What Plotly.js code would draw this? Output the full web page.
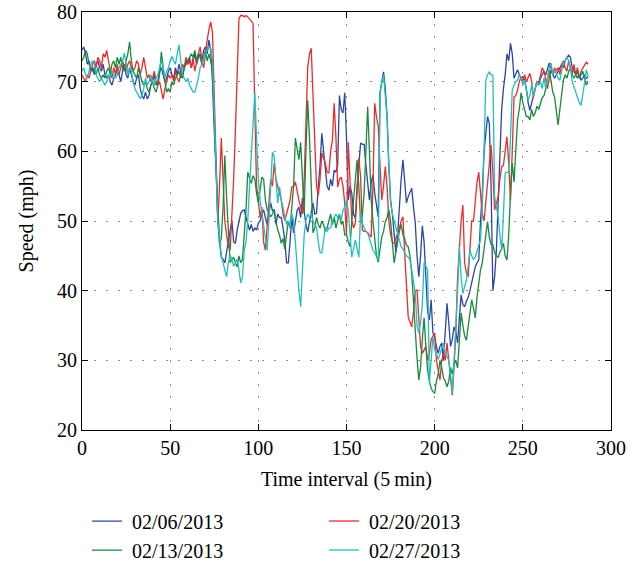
<!DOCTYPE html>
<html>
<head>
<meta charset="utf-8">
<script src="https://cdn.plot.ly/plotly-3.0.1.min.js"></script>
<style>html,body{margin:0;padding:0;background:#fff;}#chart{width:643px;height:561px;}</style>
</head>
<body>
<div id="chart"></div>
<script>
// Series labels
const seriesNames = ["02/06/2013", "02/20/2013", "02/13/2013", "02/27/2013"];

// Speed (mph) per 5-min interval, index 0..287
const speed0206 = [
74.5,75,74,72.5,73,71.5,72,71,72.5,73,
72,71.5,72.5,71,70.5,71,70,69.5,70.5,71,
72,71,70,71.5,72.5,71,70.5,72,71,70,
69.5,70.5,71,69,68,67.5,68.5,67.5,68,69.5,
70,71,69.5,70,71.5,72,71,70,70.5,71.5,
72,71,70.5,72,71,72.5,71.5,70.5,72,73,
72.5,73.5,72,73,74,72.5,73.5,74,73,74.5,
75,74,76,74.5,70,63,57,52,47,44.8,
44.5,44,45.5,46.8,48,50.1,47,46.8,48.7,50,
51.1,51.5,51.6,50.5,49.7,48.7,49.5,48.5,49,48.7,
49.7,50,51,51.6,50.5,49.5,51,52.6,51.5,51.6,
49.5,51,50.5,50.5,49,47.3,44,44,47,50.6,
48.3,50,51.5,52,50.5,53.3,51,49.5,48.4,50,
51.5,52.6,51,51.1,55,58,62.6,60,58,55,
54.4,56,55,57.3,57,58,68,66,65.5,68.4,
62,53,55,54,51,50.4,55,58,61.2,61,
61,58,55,53,55.5,56.6,54,52,50.6,68.4,
70,71.4,69,65,58,53,51,48,45.5,48,
53,56,58.8,55,52.6,53.5,54,54.7,52,49.7,
45,42,45,49.3,47,42,37,35.8,38.7,34,
33.4,32,31,32,32.5,30,34,38.2,35.4,32,
33,34.8,34,32.5,36,39.4,38,37.7,38.5,39,
40,41.1,42,43.4,44,44.4,50,54,60,63,
65,64,55,40,42,45.8,52,60,66,69,
71,74,73,75.5,74,70.5,71,71.7,71,70.5,
70.7,70.2,69,67,65.9,67,68,68.8,70,69.5,
70.5,71,71.5,71,72,72.7,72,71,70.5,71,
71.5,72,72.5,72,73,73.5,73.8,73.5,72,71.5,
71,70.5,71,70.2,70.5,71,70.5,70.7
];

const speed0220 = [
71,70.5,70,71,70.5,71.5,72.5,73,72,73.5,
73,72,74,73.5,74.5,73,71.5,70.5,72,71,
72.5,71,72,73,72,71.5,72.5,73,72,71.5,
72,73,72.5,71,72,73.5,72,70.5,71,70,
70.5,71.5,70,69.5,70,68.5,67.5,69,70,71,
70.5,71,70,71.5,70.5,70,71,72.5,72,73.5,
72.5,73,72,73.5,71.5,73,74,75,73,72,
74.5,76,77.5,78.6,77,68,58,50,55,61.9,
56,50,48,46.5,45.8,50,56,63,71,79,
79.5,79.5,79.3,79.5,79.3,79,78.8,78.4,66,55,
53,50.5,52,47,45.8,49,53,56,55,58.3,
56,54.9,54,53,51,50.1,51,52,53,54.9,
55,55.6,54,53,52,51,56,64,72.1,74,
74.8,68,60,55,53.7,56,59.8,59,58.3,57,
56.9,60,61.6,66.9,62,54.9,56,56.3,55,52.6,
48,61.3,55,50.1,49,49.7,54,59,56.3,48.7,
48.5,48.5,48.3,48,47.7,55,66.9,65,63.6,58,
53,55,57.8,55,50.1,48,47,46.8,47.5,48.3,
49,50,50.6,45.4,40,36.2,35.5,34.8,37,40,
40.1,36,32,31,31.5,32,30,31,33,33.5,
33.9,30,28.5,27.2,30,31,30,32.5,30,27,
25,29,34,42,46,50,52.3,44,42.5,42,
46,50,50,53,55.5,57,54,51,50,53,
55,58,60.9,57,51.6,52.5,53.5,56,57.8,58,
60,62.1,58.3,53,60,67.8,68,68.8,70,70.7,
70,71,70,70.5,71.2,70,67.8,69,70,69.8,
71,72,71.5,70,69,70.5,71.7,71,72,71.5,
72,71,72.5,73,72,71.5,73,72,71,72.5,
71,72,70.5,71.5,72,72.5,72.8,72.5
];

const speed0213 = [
73,73.5,74.5,74,72.5,72,71.5,72,71,72,
71,70.5,71,70.5,71.5,72,71,72.5,73,72,
73.5,72.5,73.5,72,71.5,73,74,75.7,73,71.5,
71,70.5,72,71,70,69.5,70,69,68.5,69.5,
70,69,68.5,69.5,71,74.3,72,70,68.5,69,
68.5,70,69.5,70.5,71,71.5,70.5,71,72,72.5,
73,73.5,74,73.5,74.5,73,74,73.5,72.5,73.5,
74.5,73,74,73,71.5,65,57,50,46.8,47.5,
52,59.4,53.4,48,44,44.5,44.8,44,43.4,45,
44,44.5,48,51.6,57,56,55.4,56.5,56,54,
52.6,54.5,56.3,56,53,51.6,51,50.6,51,51.6,
50,48.7,48,46.8,47.5,46,48,50,49,51.5,
55,61.9,60,58.8,61.3,56,51.1,60,67.3,62,
54,48.3,49,50.5,49.5,49,50,49.5,48.5,49,
50,51,49.5,50.5,49,50,51,49.5,50,48,
48,47,46.3,50,53,55.5,58.8,55,49.7,51,
54,60,66.4,60,53,50,47,45,44.1,46,
47.7,48.5,49.9,50.5,51.6,50,47,44,45.5,47.3,
48.5,49.5,48,47.5,46.5,46.3,45,42.5,38,33.4,
30.3,27.2,29,33,36.1,32,28.6,27,26,25.5,
25.3,27,28,30,29,27.5,27,26.2,27,29,
28,29.5,30,28.9,33,36.8,35,33.5,32.9,35,
37,38.7,37.5,36.1,39,41,43,44,46,48.3,
49.9,47.7,46.6,46.6,45.5,45,44.8,45.5,46,46.8,
45,44.4,48,54,58.3,55.6,60,64.5,66,68.4,
67,66,65,65,64.5,66,65,65.5,66.5,66,
67,67.7,68,69,70.5,71.7,70,68.5,67.8,66,
63.8,66,68,70.2,71,70.5,71.5,72,71,70.5,
71,71.5,70.5,71,71.5,70.5,69.5,70
];

const speed0227 = [
71.5,72,71,70.5,71.5,72.5,73,72.5,71,70.5,
70,70.5,70,69.5,70,71,70.5,71.5,71,70.5,
71,72,72.5,73,74.1,72.5,71,72,71.5,70,
69,68.5,68,67.6,68,69,70.5,69.5,70,71,
70,69.5,70.5,71,72,73,72,70.5,71.5,72,
73,73.6,73,72.5,74,75.3,73,71,70.5,70,
70.5,69.5,69,68.5,68.5,69.5,70.5,72,72.5,73.5,
74,74.5,75,74.8,73,66,56,50,47.7,45,
44,43,42,44,45.1,44.5,43.5,44,44.5,43,
41.1,42,45.8,47,50,55,60,64,68.4,62,
55.9,53,51,49.7,47,45.8,50,55,59.9,59.2,
56,52.6,54.9,53,52,50.6,49.5,50,49.1,51.1,
50,47,43,40,37.7,44,48,50.1,51,50.5,
51.1,50,49.5,49.1,47,45.5,45.4,47,49.1,48.5,
49,49,50,50.5,51,50.5,51,50.1,51.5,52,
53,51.5,48,44.8,46,47.3,46,44.8,51.1,49.7,
49,48.5,48.3,47.5,46.5,45.8,45.4,45,44.4,68.4,
70,71,68,65,58,52.6,51,50,49.1,48,
47,46.3,46,45.5,45,44.8,44.4,43,41.5,39.6,
35,33.9,35.4,38,44,43.5,43,26.7,30,33.4,
31.5,31,30.1,31,31.5,32.5,31,30.5,30,28,
25.3,30,34.4,40,46.3,42,39.6,40.5,41.5,43.5,
45.8,45,44.5,44.8,45.5,46.5,47.3,52,60,70.2,
71,71.4,71,70.9,53.5,52,50.6,48,45.8,51,
56.9,57,56.9,62,68.8,69.5,70,70.2,71,70.5,
69.5,70.2,68.5,67.4,68,69.5,68,69,70,69.5,
70,69,70.5,69,70.5,72,72.7,71,71.5,71.2,
70.5,70.2,71.5,72.7,73,73.5,73,72,70,69.2,
68.5,67.8,67,66.6,68,69.8,71.7,70.7
];

const seriesValues = [speed0206, speed0220, speed0213, speed0227];
const seriesColors = ["#2b45a6", "#ee2a2a", "#178a3c", "#22bfbf"];

const xTickVals = [0, 50, 100, 150, 200, 250, 300];
const yTickVals = [20, 30, 40, 50, 60, 70, 80];

const traces = seriesValues.map((vals, k) => ({
  type: "scatter",
  mode: "lines",
  name: "\u00a0" + seriesNames[k],
  x: vals.map((_, i) => i),
  y: vals,
  line: {color: seriesColors[k], width: 1.3},
  hoverinfo: "skip"
}));

const fontFam = "Liberation Serif, Times New Roman, serif";

const axisCommon = {
  showline: true,
  linecolor: "#000",
  linewidth: 1,
  mirror: "ticks",
  ticks: "inside",
  ticklen: 6,
  tickcolor: "#000",
  tickwidth: 1,
  showgrid: true,
  gridcolor: "#8a8a8a",
  gridwidth: 1,
  griddash: "2px,10px",
  zeroline: false,
  automargin: false,
  tickfont: {family: fontFam, size: 20, color: "#000"}
};

const layout = {
  width: 643,
  height: 561,
  margin: {l: 82, r: 32, t: 12, b: 131},
  paper_bgcolor: "#fff",
  plot_bgcolor: "#fff",
  font: {family: fontFam, size: 20, color: "#000"},
  showlegend: true,
  xaxis: Object.assign({}, axisCommon, {
    range: [0, 300],
    tickvals: xTickVals,
    title: {text: "Time interval (5\u2009min)", font: {family: fontFam, size: 20, color: "#000"}, standoff: 13}
  }),
  yaxis: Object.assign({}, axisCommon, {
    range: [20, 80],
    tickvals: yTickVals,
    title: {text: "Speed (mph)", font: {family: fontFam, size: 20, color: "#000"}, standoff: 18}
  }),
  legend: {
    orientation: "h",
    xref: "paper",
    x: 0.0095,
    xanchor: "left",
    yref: "container",
    y: 0.106,
    yanchor: "top",
    entrywidth: 192,
    entrywidthmode: "pixels",
    font: {family: fontFam, size: 20, color: "#000"},
    bgcolor: "rgba(0,0,0,0)",
    tracegroupgap: 0
  }
};

Plotly.newPlot("chart", traces, layout, {displayModeBar: false, staticPlot: true});
</script>
</body>
</html>
